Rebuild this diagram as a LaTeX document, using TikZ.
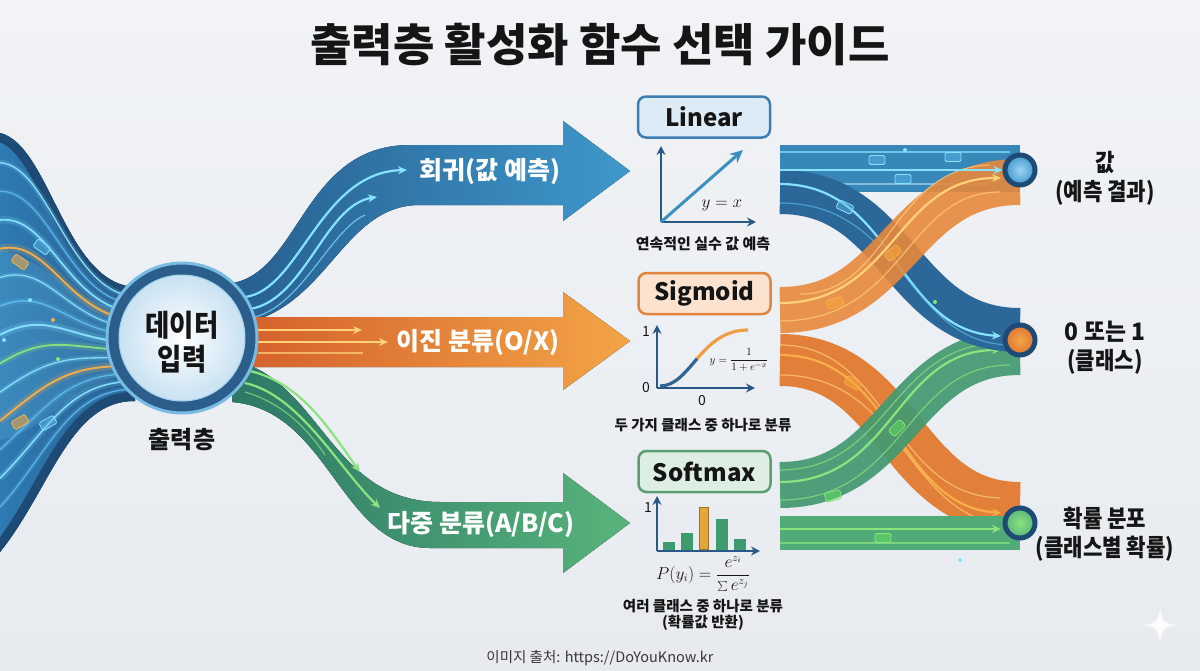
\documentclass[tikz,border=0pt]{standalone}
\usepackage{fontspec}
\setmainfont{Noto Sans CJK KR}
\usetikzlibrary{arrows.meta}
\definecolor{bgtop}{HTML}{F1F3F6}
\definecolor{bgbot}{HTML}{E7EBF0}
\definecolor{navy}{HTML}{1E4A76}
\definecolor{ringcol}{HTML}{2C5E8B}
\definecolor{ringedge}{HTML}{78BCE3}
\definecolor{bluedark}{HTML}{275E90}
\definecolor{bluelight}{HTML}{3F98CB}
\definecolor{orangedark}{HTML}{D4602C}
\definecolor{orangelight}{HTML}{F3A546}
\definecolor{greendark}{HTML}{2C7866}
\definecolor{greenlight}{HTML}{58B47B}
\definecolor{cyanS}{HTML}{86E2FF}
\definecolor{lblueS}{HTML}{5DB8EA}
\definecolor{orangeS}{HTML}{F7AE48}
\definecolor{yellowS}{HTML}{FFD27A}
\definecolor{greenS}{HTML}{8BE37E}
\definecolor{linfill}{HTML}{DDEBF6}
\definecolor{linedge}{HTML}{3D7FB3}
\definecolor{sigfill}{HTML}{FBE3D0}
\definecolor{sigedge}{HTML}{E0853F}
\definecolor{softfill}{HTML}{DDEFE2}
\definecolor{softedge}{HTML}{5A9E72}
\definecolor{axiscol}{HTML}{2B5985}
\definecolor{barg}{HTML}{3E9B6E}
\definecolor{baro}{HTML}{E3A63A}
\definecolor{txt}{HTML}{151515}
\definecolor{funnelL}{HTML}{2E7AB3}
\newcommand{\cz}[2][0.88]{\scalebox{#1}[1]{#2}}
\begin{document}
\begin{tikzpicture}[x=1pt,y=-1pt,
  arrlbl/.style={font=\fontsize{25}{30}\selectfont\bfseries, text=white, inner sep=0},
  fbox/.style={rounded corners=8, line width=2.5, minimum width=132, minimum height=41, inner sep=0, font=\fontsize{24}{28}\selectfont\bfseries, text=txt},
  capt/.style={font=\fontsize{14.5}{17}\selectfont\bfseries, text=txt, inner sep=0},
  axisln/.style={axiscol, line width=2.6, -{Stealth[length=9,width=9]}},
  ticklbl/.style={font=\fontsize{14}{16}\selectfont, text=txt, inner sep=0},
  rlbl/.style={font=\fontsize{24}{29}\selectfont\bfseries, text=txt, inner sep=0, align=center},
  packO/.style={draw=orangeS, fill=orangeS!80!orange, fill opacity=.55, line width=.8, minimum width=16, minimum height=9, rounded corners=1.5, inner sep=0},
  packC/.style={draw=cyanS, fill=lblueS, fill opacity=.45, line width=.8, minimum width=16, minimum height=9, rounded corners=1.5, inner sep=0},
  packG/.style={draw=greenS, fill=greenS!70!green, fill opacity=.45, line width=.8, minimum width=16, minimum height=9, rounded corners=1.5, inner sep=0},
  glow/.style={circle, inner sep=0, minimum size=4},
  streak/.style={line width=2.2, -{Stealth[length=9,width=8]}},
  thin/.style={line width=1.2, opacity=.7},
  endnode/.style={circle, draw=navy, line width=5, minimum size=30, inner sep=0}
]
% background
\useasboundingbox (0,0) rectangle (1200,670);
\fill[top color=bgtop, bottom color=bgbot] (0,0) rectangle (1200,670);

% title
\node[font=\fontsize{45}{52}\selectfont\bfseries, text=txt, inner sep=0] (title) at (600,45) {출력층 활성화 함수 선택 가이드};

% ---------------- left funnel ----------------
\begin{scope}
\clip (0,133) .. controls (50,145) and (65,284) .. (135,287) -- (135,401) .. controls (70,400) and (50,490) .. (0,552) -- cycle;
\fill[left color=funnelL, right color=bluedark] (0,120) rectangle (140,560);
\fill[cyanS, opacity=.15] (0,250) .. controls (50,260) and (70,305) .. (135,312) -- (135,375) .. controls (70,380) and (50,430) .. (0,440) -- cycle;
\draw[line width=18, navy] (0,133) .. controls (50,145) and (65,284) .. (135,287);
\draw[line width=18, navy] (135,401) .. controls (70,400) and (50,490) .. (0,552);
\foreach \t/\c/\w in {0.06/cyanS/1.4, 0.13/lblueS/1.2, 0.2/cyanS/1.8, 0.27/orangeS/2, 0.34/cyanS/1.2, 0.41/lblueS/1.6, 0.48/cyanS/2, 0.55/greenS/1.8, 0.62/cyanS/1.3, 0.69/orangeS/2, 0.76/lblueS/1.4, 0.83/cyanS/1.6, 0.9/lblueS/1.2} {
  \pgfmathsetmacro\ya{138+410*\t}
  \pgfmathsetmacro\yb{290+110*\t}
  \pgfmathsetmacro\yc{146+340*\t}
  \pgfmathsetmacro\yd{286+114*\t}
  \draw[\c, line width=4*\w, opacity=.18] (0,\ya) .. controls (50,\yc) and (68,\yd) .. (136,\yb);
  \draw[\c, line width=\w, opacity=.95] (0,\ya) .. controls (50,\yc) and (68,\yd) .. (136,\yb);
}
\node[packO, rotate=-35] (lp1) at (20,262) {};
\node[packC, rotate=-35] (lp2) at (42,247) {};
\node[packO, rotate=30] (lp3) at (20,422) {};
\node[packC, rotate=30] (lp4) at (48,423) {};
\node[glow, fill=cyanS] (lg1) at (4,340) {};
\node[glow, fill=greenS] (lg2) at (58,359) {};
\node[glow, fill=orangeS] (lg3) at (53,320) {};
\node[glow, fill=cyanS] (lg4) at (30,300) {};
\end{scope}

% ---------------- middle arrows ----------------
\fill[left color=bluedark, right color=bluelight] (225,284) .. controls (300,280) and (300,145) .. (410,145) -- (563,145) -- (563,121) -- (630,171) -- (563,221) -- (563,205) -- (420,205) .. controls (345,205) and (330,300) .. (250,322) -- cycle;
\fill[left color=orangedark, right color=orangelight] (240,317) -- (563,317) -- (563,292) -- (630,341) -- (563,390) -- (563,367) -- (240,367) -- cycle;
\fill[left color=greendark, right color=greenlight] (232,360) .. controls (320,378) and (330,502) .. (440,502) -- (563,502) -- (563,473) -- (630,523) -- (563,573) -- (563,548) -- (430,548) .. controls (340,548) and (330,410) .. (232,402) -- cycle;

% streaks in arrows
\draw[streak, cyanS] (245,297) .. controls (300,290) and (320,172) .. (407,170);
\draw[streak, cyanS] (250,309) .. controls (305,300) and (325,205) .. (377,197);
\draw[thin, cyanS] (250,318) .. controls (300,310) and (330,230) .. (365,215);
\draw[streak, yellowS] (258,330) -- (362,330);
\draw[streak, yellowS] (258,342) -- (388,342);
\draw[thin, yellowS] (258,353) -- (363,353);
\draw[streak, greenS] (245,370) .. controls (300,380) and (330,430) .. (360,472);
\draw[streak, greenS] (245,383) .. controls (300,395) and (340,470) .. (380,508);
\draw[thin, greenS] (245,392) .. controls (290,405) and (315,440) .. (325,455);

\node[arrlbl] (a1) at (490,172) {회귀(값 예측)};
\node[arrlbl] (a2) at (478,342) {이진 분류(O/X)};
\node[arrlbl] (a3) at (481,524) {다중 분류(A/B/C)};

% ---------------- circle ----------------
\node[circle, fill=ringcol, draw=ringedge, line width=3, minimum size=150, inner sep=0] (ring) at (182,338) {};
\node[circle, inner color=white, outer color=linfill!80!ringedge, draw=ringedge!70!white, line width=1, minimum size=126, inner sep=0] (disk) at (ring.center) {};
\node[font=\fontsize{30}{34}\selectfont\bfseries, text=txt, align=center, inner sep=0] (din) at (182,342) {\cz{데이터}\\\cz{입력}};
\node[font=\fontsize{24}{28}\selectfont\bfseries, text=txt, inner sep=0] (outl) at (182,440) {출력층};

% ---------------- middle column ----------------
% Linear
\node[fbox, fill=linfill, draw=linedge] (lin) at (704,117) {Linear};
\coordinate (lo) at (661,222);
\draw[axisln] (lo) -- (661,146);
\draw[axisln] (lo) -- (756,222);
\draw[line width=3, bluelight!85!axiscol, -{Stealth[length=13,width=12]}] (lo) -- (743,150);
\node[font=\fontsize{18}{20}\selectfont, text=txt, inner sep=0] (lineq) at (722,205) {$y = x$};
\node[capt, font=\fontsize{15}{18}\selectfont\bfseries] (c1) at (703,244) {연속적인 실수 값 예측};

% Sigmoid
\node[fbox, fill=sigfill, draw=sigedge] (sig) at (704.5,293.5) {Sigmoid};
\coordinate (so) at (657,388);
\draw[axisln] (so) -- (657,325);
\draw[axisln] (so) -- (755,388);
\draw[line width=3.2, axiscol!80!bluelight] (660,386) .. controls (675,386) and (685,372.75) .. (697.25,358.5);
\draw[line width=3.2, orangelight!90!orangedark] (697.25,358.5) .. controls (709.5,344.25) and (724,330) .. (748,330);
\node[ticklbl] (s1) at (646,332) {1};
\node[ticklbl] (s0) at (646,388) {0};
\node[ticklbl] (sx0) at (702,401) {0};
\node[font=\fontsize{11}{13}\selectfont, text=txt, inner sep=0] (sigeq) at (739,360) {$\displaystyle y=\frac{1}{1+e^{-x}}$};
\node[capt] (c2) at (703,425) {두 가지 클래스 중 하나로 분류};

% Softmax
\node[fbox, fill=softfill, draw=softedge] (soft) at (704.5,471.5) {Softmax};
\coordinate (fo) at (657,551);
\fill[barg] (663,542) rectangle (675,550);
\fill[barg] (681,533) rectangle (693,550);
\draw[fill=baro, draw=baro!70!black, line width=1.2] (699.5,507.5) rectangle (708.5,550);
\fill[barg] (716,519) rectangle (728,550);
\fill[barg] (734,539) rectangle (746,550);
\draw[axisln] (fo) -- (657,496);
\draw[axisln] (fo) -- (760,551);
\node[ticklbl] (f1) at (648,508) {1};
\node[font=\fontsize{16}{18}\selectfont, text=txt, inner sep=0] (softeq) at (703,574) {$\displaystyle P(y_i) = \frac{e^{z_i}}{\textstyle\sum e^{z_j}}$};
\node[capt] (c3) at (703,606) {여러 클래스 중 하나로 분류};
\node[capt] (c4) at (703,623) {(확률값 반환)};

% ---------------- right streams ----------------
\draw[line width=52, color=orangedark!55!orangelight] (780,360) .. controls (900,360) and (900,508) .. (1020,508);
\draw[thin, yellowS] (780,345) .. controls (890,345) and (890,495) .. (1000,498);
\draw[streak, orangeS] (780,355) .. controls (895,355) and (895,505) .. (1001,513);
\draw[thin, yellowS] (780,375) .. controls (905,375) and (905,520) .. (1010,525);
\node[packO, rotate=-30] (rp1) at (853,383) {};

\draw[line width=34, greenlight!85!greendark] (780,533) -- (1020,533);
\coordinate (gs) at (780,529);
\draw[thin, greenS] (780,543) -- (1010,543);
\node[packG] (rp2) at (883,538) {};

\draw[line width=46, greendark!45!greenlight, opacity=.93] (780,485) .. controls (900,485) and (900,352) .. (1020,352);
\draw[thin, greenS] (780,470) .. controls (890,470) and (890,345) .. (1000,343);
\draw[streak, greenS] (780,482) .. controls (895,482) and (895,350) .. (1001,350);
\draw[thin, greenS] (780,500) .. controls (905,500) and (905,365) .. (1010,365);
\node[packG, rotate=45] (rp3) at (897,428) {};
\node[packG, rotate=15] (rp4) at (833,496) {};

\draw[line width=47, bluelight!70!bluedark] (780,168) -- (1020,168);
\draw[thin, cyanS] (780,152) -- (1010,152);
\draw[thin, lblueS!60!white] (800,184) -- (990,184);
\node[packC] (rp5) at (877,160) {};
\node[packC] (rp6) at (953,157) {};
\node[packC] (rp7) at (903,179) {};

\draw[line width=44, bluedark!85!bluelight] (780,192) .. controls (900,192) and (900,330) .. (1020,330);
\draw[streak, cyanS] (780,184) .. controls (895,184) and (895,330) .. (1001,336);
\draw[thin, lblueS] (780,203) .. controls (905,203) and (905,343) .. (1010,345);
\node[packC, rotate=-25] (rp8) at (845,207) {};

\draw[line width=46, orangelight!60!orangedark, opacity=.9] (780,310) .. controls (900,310) and (900,182) .. (1020,182);
\draw[streak, yellowS] (780,303) .. controls (895,303) and (895,178) .. (1001,178);
\draw[thin, yellowS] (780,321) .. controls (905,321) and (905,192) .. (1000,192);
\draw[thin, yellowS] (800,294) .. controls (890,294) and (890,168) .. (990,165);
\node[packO, rotate=40] (rp9) at (893,253) {};
\node[packO, rotate=15] (rp10) at (835,303) {};

\coordinate (bs) at (780,170);
\coordinate (gse) at (1001,529);

% end nodes
\node[endnode, inner color=lblueS!60!white, outer color=bluelight] (n1) at (1020,170) {};
\node[endnode, inner color=orangelight, outer color=orangedark!70!orangelight] (n2) at (1020,340) {};
\node[endnode, inner color=greenS, outer color=greenlight] (n3) at (1020,523) {};
\draw[streak, cyanS] (bs) -- (n1.west);
\draw[streak, greenS] (gs) -- (gse);

\node[glow, fill=cyanS] (rg1) at (905,150) {};
\node[glow, fill=greenS] (rg2) at (935,302) {};
\node[glow, fill=cyanS] (rg3) at (960,560) {};

% right labels
\node[rlbl] (l1) at (1105,178) {\cz{값}\\\cz{(예측 결과)}};
\node[rlbl] (l2) at (1105,348) {\cz[0.95]{0 또는 1}\\\cz{(클래스)}};
\node[rlbl] (l3) at (1105,534) {\cz{확률 분포}\\\cz{(클래스별 확률)}};

% source
\node[font=\fontsize{14.5}{17}\selectfont, text=txt!85!white, inner sep=0] (src) at (600,658) {이미지 출처: https://DoYouKnow.kr};

% sparkle
\fill[white, opacity=.85] (1160,600) .. controls (1160,622) and (1163,625) .. (1185,625) .. controls (1163,625) and (1160,628) .. (1160,650) .. controls (1160,628) and (1157,625) .. (1135,625) .. controls (1157,625) and (1160,622) .. (1160,600) -- cycle;
\end{tikzpicture}
\end{document}
